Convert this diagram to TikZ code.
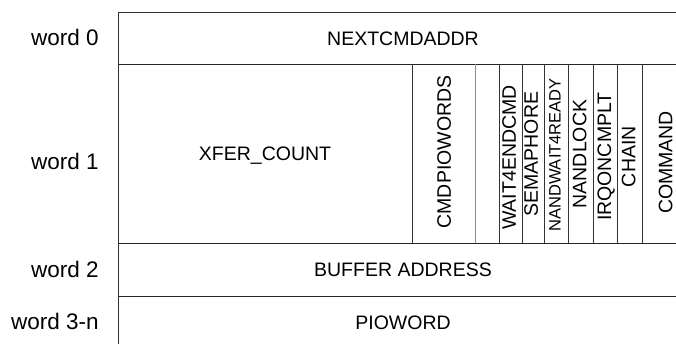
\documentclass[tikz,border=0pt]{standalone}
\usepackage{fontspec}
\setmainfont{Liberation Sans}
\begin{document}
\begin{tikzpicture}[x=1bp, y=-1bp, line cap=rect, line width=0.9bp,
	field/.style={font=\fontsize{19.5bp}{22bp}\selectfont, inner sep=0pt, text depth=0pt},
	flag/.style={field, rotate=90},
	wordlbl/.style={font=\fontsize{22.5bp}{26bp}\selectfont, inner sep=0pt, anchor=east}]
	\def\xl{118} \def\xr{688} % box edges
	\def\ya{12} \def\yb{64.7} \def\yc{243} \def\yd{296} \def\ye{349}
	\useasboundingbox (0,0) rectangle (676,343);
	\clip (0,0) rectangle (676,343);
	% rows
	\draw[black!80] (\xl,\ya) rectangle (\xr,\ye);
	\foreach \y in {\yb,\yc,\yd}{
		\draw[black!85] (\xl,\y)--(\xr,\y);%row
	}
	% columns of word 1
	\foreach \x in {412.5,499.5,522,544,568.5,593,617.5,642}{
		\draw[black!80] (\x,\yb)--(\x,\yc);%col
	}
	\draw[gray!90] (475,\yb)--(475,\yc);
	% fields
	\node[field] (nextcmd) at (403,38.3) {NEXTCMDADDR};
	\node[field] (xfer) at (265,153.8) {XFER\_COUNT};
	\node[field] (buffer) at (403,269.5) {BUFFER ADDRESS};
	\node[field] (pioword) at (403,322.5) {PIOWORD};
	\node[flag] (cmdpio) at (444,152) {CMDPIOWORDS};
	\node[flag] (wait) at (509,157.5) {WAIT4ENDCMD};
	\node[flag] (sema) at (531,154.2) {SEMAPHORE};
	\node[flag, font=\fontsize{16.5bp}{19bp}\selectfont] (nwait) at (555,155) {NANDWAIT4READY};
	\node[flag] (nlock) at (579.5,154) {NANDLOCK};
	\node[flag] (irq) at (604.2,156.7) {IRQONCMPLT};
	\node[flag] (chain) at (628.5,156.7) {CHAIN};
	\node[flag] (command) at (665.5,162.5) {COMMAND};
	% word labels
	\node[wordlbl] (w0) at (99,37.5) {word 0};
	\node[wordlbl] (w1) at (99,161.5) {word 1};
	\node[wordlbl] (w2) at (99,269.5) {word 2};
	\node[wordlbl] (w3) at (99,321.7) {word 3-n};
\end{tikzpicture}
\end{document}
